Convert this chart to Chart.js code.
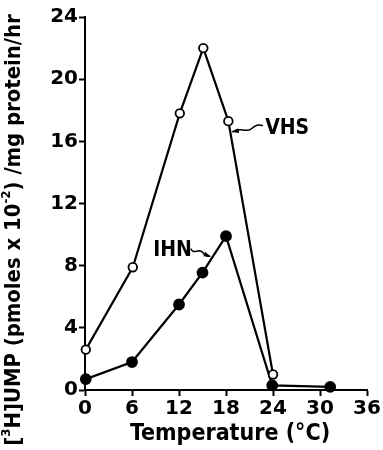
<!DOCTYPE html>
<html>
<head>
<meta charset="utf-8">
<script src="https://cdn.jsdelivr.net/npm/chart.js@4.4.6/dist/chart.umd.min.js"></script>
<style>
  html, body { margin: 0; padding: 0; background: #fff; }
  #wrap { width: 383px; height: 450px; position: relative; }
</style>
</head>
<body>
<div id="wrap"><canvas id="chart"></canvas></div>
<script>
// temperature (°C) and activity
const vhsTemp = [0.1, 6.1, 12.1, 15.1, 18.3, 24];
const vhsRate = [2.6, 7.9, 17.8, 22.0, 17.3, 1.0];
const ihnTemp = [0.1, 6, 12, 15, 18, 23.9, 31.3];
const ihnRate = [0.7, 1.8, 5.5, 7.55, 9.9, 0.3, 0.2];
const xTicks = [0, 6, 12, 18, 24, 30, 36];
const yTicks = [0, 4, 8, 12, 16, 20, 24];

const FONT = '"DejaVu Sans", sans-serif';
const COND = '"DejaVu Sans Condensed", "DejaVu Sans", sans-serif';
const toPoints = (xs, ys) => xs.map((x, i) => ({ x, y: ys[i] }));

// label + wavy arrow, positions in data units
const callouts = [
  { text: 'VHS', at: [23.0, 16.85], from: [22.7, 17.0], to: [18.8, 16.6] },
  { text: 'IHN', at: [8.7, 9.0], from: [13.5, 9.1], to: [16.0, 8.6] }
];

function wavy(ctx, x0, y0, x1, y1) {
  const dx = x1 - x0, dy = y1 - y0;
  const len = Math.hypot(dx, dy);
  const nx = -dy / len, ny = dx / len;
  ctx.beginPath();
  ctx.moveTo(x0, y0);
  const steps = 40;
  for (let i = 1; i <= steps; i++) {
    const t = i / steps;
    const amp = 1.8 * Math.sin(t * Math.PI * 3) * (1 - t * 0.5);
    ctx.lineTo(x0 + dx * t + nx * amp, y0 + dy * t + ny * amp);
  }
  ctx.stroke();
  const ang = Math.atan2(dy, dx);
  ctx.beginPath();
  ctx.moveTo(x1, y1);
  ctx.lineTo(x1 - 7 * Math.cos(ang - 0.35), y1 - 7 * Math.sin(ang - 0.35));
  ctx.lineTo(x1 - 7 * Math.cos(ang + 0.35), y1 - 7 * Math.sin(ang + 0.35));
  ctx.closePath();
  ctx.fill();
}

const decor = {
  id: 'decor',
  afterDraw(chart) {
    const { ctx, scales: { x, y } } = chart;
    ctx.save();
    ctx.fillStyle = '#000';
    ctx.strokeStyle = '#000';
    ctx.lineWidth = 1.5;

    callouts.forEach(c => {
      ctx.font = 'bold 21px ' + COND;
      ctx.textBaseline = 'middle';
      ctx.textAlign = 'left';
      ctx.fillText(c.text, x.getPixelForValue(c.at[0]), y.getPixelForValue(c.at[1]));
      wavy(ctx, x.getPixelForValue(c.from[0]), y.getPixelForValue(c.from[1]),
        x.getPixelForValue(c.to[0]), y.getPixelForValue(c.to[1]));
    });

    // x title
    ctx.font = 'bold 23px ' + COND;
    ctx.textAlign = 'center';
    ctx.textBaseline = 'middle';
    ctx.fillText('Temperature (°C)', 230, 434);

    // y title with superscripts, fitted to the height of the figure
    const parts = [
      ['[', false], ['3', true], ['H]UMP (pmoles x 10', false], ['-2', true], [') /mg protein/hr', false]
    ];
    const base = 20;
    const measure = size => parts.reduce((w, [t, sup]) => {
      ctx.font = 'bold ' + (sup ? size * 0.6 : size) + 'px ' + COND;
      return w + ctx.measureText(t).width;
    }, 0);
    const size = base * 432 / measure(base);
    const total = measure(size);
    ctx.translate(14, 230);
    ctx.rotate(-Math.PI / 2);
    ctx.textAlign = 'left';
    ctx.textBaseline = 'middle';
    let cx = -total / 2;
    parts.forEach(([t, sup]) => {
      ctx.font = 'bold ' + (sup ? size * 0.6 : size) + 'px ' + COND;
      ctx.fillText(t, cx, sup ? -size * 0.35 : 0);
      cx += ctx.measureText(t).width;
    });
    ctx.restore();
  }
};

const axisStyle = {
  border: { color: '#000', width: 2 },
  grid: { drawOnChartArea: false, tickLength: 6, tickColor: '#000', tickWidth: 2 },
  ticks: { color: '#000', font: { family: FONT, size: 20, weight: 'bold' } }
};

new Chart(document.getElementById('chart'), {
  type: 'scatter',
  data: {
    datasets: [
      {
        label: 'VHS',
        data: toPoints(vhsTemp, vhsRate),
        showLine: true,
        borderColor: '#000',
        borderWidth: 2.2,
        pointRadius: 4.3,
        pointBorderWidth: 1.8,
        pointBackgroundColor: '#fff',
        pointBorderColor: '#000',
        clip: false
      },
      {
        label: 'IHN',
        data: toPoints(ihnTemp, ihnRate),
        showLine: true,
        borderColor: '#000',
        borderWidth: 2.2,
        pointRadius: 4.8,
        pointBackgroundColor: '#000',
        pointBorderColor: '#000',
        clip: false
      }
    ]
  },
  options: {
    responsive: true,
    maintainAspectRatio: false,
    animation: false,
    layout: { padding: { top: 17, right: 16, left: 0, bottom: 0 } },
    plugins: { legend: { display: false }, tooltip: { enabled: false } },
    scales: {
      x: {
        type: 'linear', min: 0, max: 36,
        afterBuildTicks: s => { s.ticks = xTicks.map(v => ({ value: v })); },
        afterFit: s => { s.height = 60; },
        ...axisStyle,
        ticks: { ...axisStyle.ticks, padding: 1, maxRotation: 0 }
      },
      y: {
        type: 'linear', min: 0, max: 24,
        afterBuildTicks: s => { s.ticks = yTicks.map(v => ({ value: v })); },
        afterFit: s => { s.width = 85; },
        ...axisStyle,
        ticks: { ...axisStyle.ticks, padding: 1 }
      }
    }
  },
  plugins: [decor]
});
</script>
</body>
</html>
